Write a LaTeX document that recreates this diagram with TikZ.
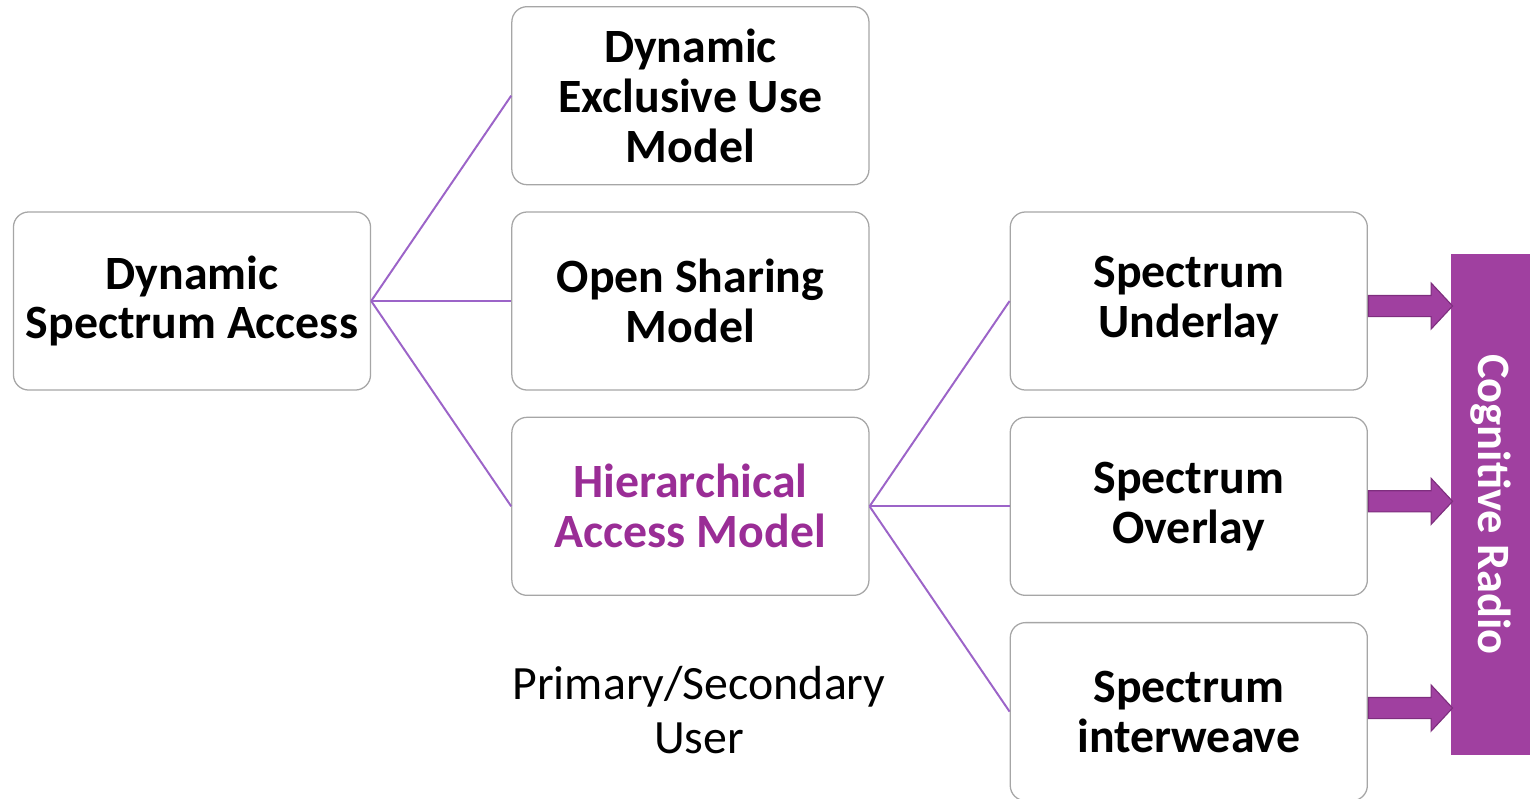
\documentclass[tikz,border=0pt]{standalone}
\usepackage{fontspec}
\setmainfont{Carlito}
\usetikzlibrary{positioning, shapes.arrows}

\definecolor{boxgray}{HTML}{A6A6A6}
\definecolor{linkpurple}{HTML}{9C64C8}
\definecolor{crpurple}{HTML}{A040A0}
\definecolor{crdark}{HTML}{7E2E7E}
\definecolor{hamtext}{HTML}{9A2D96}

\begin{document}
\begin{tikzpicture}[x=0.025cm, y=-0.025cm, node distance=0.65cm and 3.5cm,
  box/.style={draw=boxgray, fill=white, rectangle, line width=0.9pt, rounded corners=0.38cm, minimum width=8.925cm, minimum height=4.45cm, align=center, font=\fontsize{34}{35.5}\selectfont\bfseries},
  link/.style={draw=linkpurple, line width=1.4pt},
  feed/.style={single arrow, draw=crdark, fill=crpurple, line width=0.8pt, inner xsep=0pt, inner ysep=0.25cm, minimum height=2.1cm, single arrow head extend=0.3125cm, single arrow tip angle=94},
  crbar/.style={fill=crpurple, rectangle, rotate=-90, minimum width=12.525cm, minimum height=1.975cm, text=white, font=\fontsize{33}{35.5}\selectfont\bfseries}]

  % Fix the page size to the reference
  \useasboundingbox (0,0) rectangle (1531,798);

  % Root and first level
  \node [box] (dsa) at (192,301) {Dynamic\\Spectrum Access};
  \node [box, right=of dsa] (osm) {Open Sharing\\Model};
  \node [box, above=of osm] (deum) {Dynamic\\Exclusive Use\\Model};
  \node [box, below=of osm, text=hamtext] (ham) {Hierarchical\\Access Model};

  % Second level
  \node [box, right=of osm] (underlay) {Spectrum\\Underlay};
  \node [box, below=of underlay] (overlay) {Spectrum\\Overlay};
  \node [box, below=of overlay] (interweave) {Spectrum\\interweave};

  % Side bar and caption
  \node [crbar] (cr) at (1490.5,504.5) {Cognitive Radio};
  \node [align=center, font=\fontsize{34}{38.5}\selectfont] (psu) at (699,710) {Primary/Secondary\\User};

  % Tree links
  \draw [link] (dsa.east) -- (deum.west);
  \draw [link] (dsa.east) -- (osm.west);
  \draw [link] (dsa.east) -- (ham.west);
  \draw [link] (ham.east) -- (underlay.west);
  \draw [link] (ham.east) -- (overlay.west);
  \draw [link] (ham.east) -- (interweave.west);

  % Block arrows into the bar
  \node [feed, anchor=west] (f1) at ([yshift=-0.125cm]underlay.east) {};
  \node [feed, anchor=west] (f2) at ([yshift=0.125cm]overlay.east) {};
  \node [feed, anchor=west] (f3) at ([yshift=0.09cm]interweave.east) {};
\end{tikzpicture}
\end{document}
